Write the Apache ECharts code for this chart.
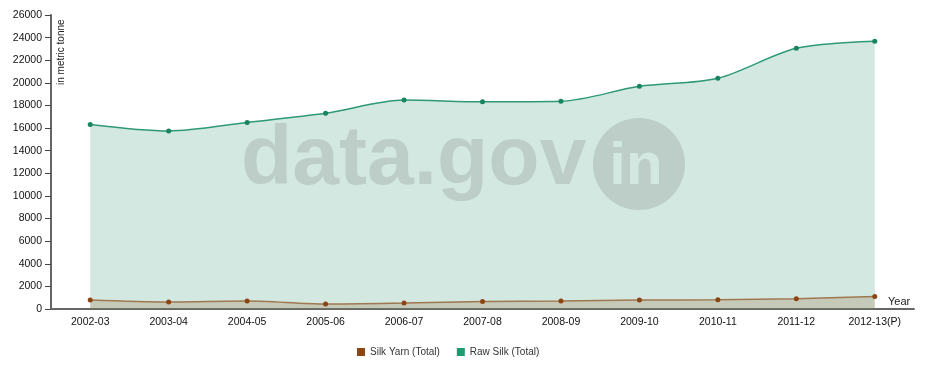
<!DOCTYPE html>
<html><head><meta charset="utf-8">
<script src="https://cdn.jsdelivr.net/npm/echarts@6/dist/echarts.min.js"></script>
<style>html,body{margin:0;padding:0;background:#fff}#c{width:926px;height:378px}</style>
</head><body><div id="c"></div>
<script>
var years = ['2002-03','2003-04','2004-05','2005-06','2006-07','2007-08','2008-09','2009-10','2010-11','2011-12','2012-13(P)'];
var silkYarn = [790, 620, 700, 440, 530, 670, 700, 790, 820, 910, 1110];
var rawSilk = [16319, 15742, 16500, 17305, 18475, 18320, 18370, 19690, 20410, 23060, 23679];
var yTicks = {min: 0, max: 26000, interval: 2000};

var chart = echarts.init(document.getElementById('c'));
var font = 'Liberation Sans, Arial, sans-serif';
chart.setOption({
  animation: false,
  grid: {left: 51, right: 12, top: 15, bottom: 69},
  legend: {
    top: 342, left: 352, itemWidth: 8, itemHeight: 8, itemGap: 17,
    icon: 'rect',
    textStyle: {fontFamily: font, fontSize: 10, color: '#333'},
    data: [{name: 'Silk Yarn (Total)', itemStyle: {color: '#8b4513'}}, {name: 'Raw Silk (Total)', itemStyle: {color: '#1f9a6f'}}]
  },
  xAxis: {
    type: 'category', data: years, boundaryGap: true,
    name: 'Year', nameLocation: 'end', nameGap: -26,
    nameTextStyle: {fontFamily: font, fontSize: 11, color: '#222', align: 'left', verticalAlign: 'bottom', padding: [0,0,2,0]},
    axisLine: {lineStyle: {color: '#666', width: 2}},
    axisTick: {length: 5, lineStyle: {color: '#444', width: 1}},
    axisLabel: {fontFamily: font, fontSize: 10.5, color: '#111', margin: 8}
  },
  yAxis: {
    type: 'value', min: yTicks.min, max: yTicks.max, interval: yTicks.interval,
    splitLine: {show: false},
    axisLine: {show: true, lineStyle: {color: '#666', width: 2}},
    axisTick: {show: true, length: 6, lineStyle: {color: '#444'}},
    axisLabel: {fontFamily: font, fontSize: 10.5, color: '#111', margin: 9, formatter: function (v) { return String(v); }}
  },
  graphic: [
    {type: 'text', z: 100, rotation: Math.PI/2, x: 56, y: 85,
     style: {text: 'in metric tonne', fontFamily: font, fontSize: 10, fill: '#222', align: 'left', verticalAlign: 'top'}},
    {type: 'text', z: 100, x: 241, y: 119,
     style: {text: 'data.gov', fontFamily: font, fontWeight: 'bold', fontSize: 84, fill: '#bccec7', align: 'left', verticalAlign: 'top'}},
    {type: 'circle', z: 100, shape: {cx: 639, cy: 164, r: 46}, style: {fill: '#bccec7'}},
    {type: 'text', z: 101, x: 636, y: 137,
     style: {text: 'in', fontFamily: font, fontWeight: 'bold', fontSize: 60, fill: '#d3e8e1', align: 'center', verticalAlign: 'top'}}
  ],
  series: [
    {name: 'Raw Silk (Total)', type: 'line', data: rawSilk, smooth: 0.3,
     symbol: 'circle', symbolSize: 5, itemStyle: {color: '#17855d'},
     lineStyle: {color: '#2e9a72', width: 1.5},
     areaStyle: {color: 'rgba(79,163,135,0.25)', opacity: 1}, z: 2},
    {name: 'Silk Yarn (Total)', type: 'line', data: silkYarn, smooth: 0.3,
     symbol: 'circle', symbolSize: 5, itemStyle: {color: '#8b4513'},
     lineStyle: {color: '#a07850', width: 1.5},
     areaStyle: {color: 'rgba(151,112,65,0.25)', opacity: 1}, z: 3}
  ]
});
</script></body></html>
